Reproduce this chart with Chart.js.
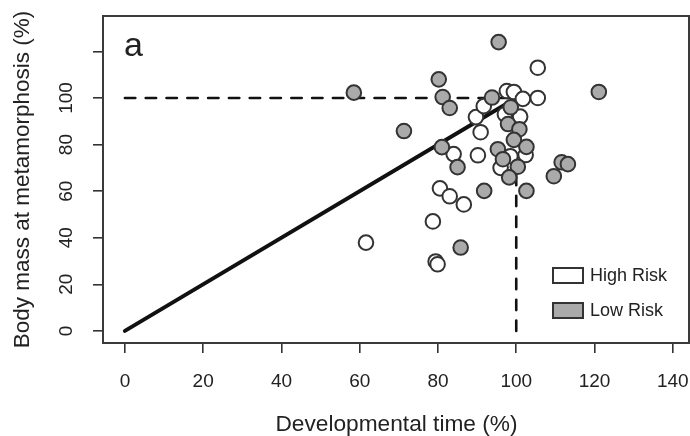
<!DOCTYPE html>
<html>
<head>
<meta charset="utf-8">
<script src="https://cdn.jsdelivr.net/npm/chart.js@4/dist/chart.umd.min.js"></script>
<style>
  html, body { margin: 0; padding: 0; background: #ffffff; overflow: hidden; }
  #wrap { width: 690px; height: 436px; }
</style>
</head>
<body>
<div id="wrap"><canvas id="c" width="690" height="436"></canvas></div>
<script>
// ---- Data ----
const seriesNames = ["High Risk", "Low Risk"];

const highRiskX = [61.6, 79.4, 79.9, 78.7, 80.5, 83.0, 86.6, 84.0, 90.2, 90.9, 89.7, 91.7, 97.6, 99.4, 101.7, 105.5, 105.5, 102.4, 96.0, 97.1, 101.0, 98.5];
const highRiskY = [37.9, 29.8, 28.6, 47.0, 61.2, 57.8, 54.3, 75.9, 75.4, 85.3, 91.8, 96.5, 103.0, 102.6, 99.6, 100.0, 113.0, 75.5, 70.0, 93.0, 92.0, 75.0];

const lowRiskX = [58.5, 71.3, 80.2, 81.2, 83.0, 81.0, 85.0, 85.8, 91.8, 93.8, 95.5, 98.6, 97.9, 100.8, 99.4, 102.6, 95.3, 96.6, 100.4, 98.2, 102.6, 111.6, 113.2, 109.6, 121.1];
const lowRiskY = [102.3, 85.8, 108.0, 100.4, 95.7, 78.9, 70.3, 35.8, 60.1, 100.2, 124.0, 96.0, 88.8, 86.6, 82.0, 79.0, 78.0, 73.7, 70.5, 65.9, 60.1, 72.4, 71.6, 66.4, 102.6];

// reference lines
const diagX = [0, 100];
const diagY = [0, 100];
const hRefX = [0, 100];
const hRefY = [100, 100];
const vRefX = [100, 100];
const vRefY = [0, 100];

// axes
const xTickValues = [0, 20, 40, 60, 80, 100, 120, 140];
const xTickLabels = ["0", "20", "40", "60", "80", "100", "120", "140"];
const yTickValues = [0, 20, 40, 60, 80, 100, 120];
const yTickLabels = ["0", "20", "40", "60", "80", "100", ""];
const xTitle = "Developmental time (%)";
const yTitle = "Body mass at metamorphosis (%)";
const panelLabel = "a";

// ---- helpers ----
const pts = (xs, ys) => xs.map((x, i) => ({ x: x, y: ys[i] }));
const FONT = "'Liberation Sans', Arial, Helvetica, sans-serif";
const INK = "#222222";
const FILL_LOW = "#aaaaaa";

const boxPlugin = {
  id: 'boxAndLegend',
  afterDraw(chart) {
    const { ctx, chartArea: a } = chart;
    ctx.save();
    ctx.strokeStyle = "#3a3a3a";
    ctx.lineWidth = 2;
    ctx.strokeRect(a.left, a.top, a.right - a.left - 1, a.bottom - a.top);
    // panel letter
    ctx.fillStyle = INK;
    ctx.font = "34px " + FONT;
    ctx.textAlign = "left";
    ctx.textBaseline = "alphabetic";
    ctx.fillText(panelLabel, a.left + 21, a.top + 40);
    // legend, in the order of seriesNames
    ctx.font = "18px " + FONT;
    ctx.textBaseline = "middle";
    const bx = 553, bw = 30, bh = 15;
    const rows = [268, 303];
    seriesNames.forEach((name, i) => {
      const d = chart.data.datasets.find(ds => ds.label === name);
      const by = rows[i];
      ctx.fillStyle = d.backgroundColor;
      ctx.fillRect(bx, by, bw, bh);
      ctx.strokeStyle = "#333333";
      ctx.lineWidth = 2;
      ctx.strokeRect(bx, by, bw, bh);
      ctx.fillStyle = INK;
      ctx.fillText(d.label, bx + 37, by + bh / 2 + 1);
    });
    ctx.restore();
  }
};

const lineDs = (label, xs, ys, width, dash, order) => ({
  type: 'line', label: label, data: pts(xs, ys), showLine: true,
  borderColor: "#111111", borderWidth: width, borderDash: dash,
  borderCapStyle: 'round', pointRadius: 0, fill: false, order: order
});

new Chart(document.getElementById('c'), {
  type: 'scatter',
  data: {
    datasets: [
      {
        label: seriesNames[1], data: pts(lowRiskX, lowRiskY),
        backgroundColor: FILL_LOW, borderColor: "#333333", borderWidth: 2,
        pointRadius: 7.3, pointHoverRadius: 7.3, order: 0
      },
      {
        label: seriesNames[0], data: pts(highRiskX, highRiskY),
        backgroundColor: "#ffffff", borderColor: "#333333", borderWidth: 2,
        pointRadius: 7.3, pointHoverRadius: 7.3, order: 1
      },
      lineDs("diag", diagX, diagY, 4, [], 2),
      lineDs("h100", hRefX, hRefY, 2.6, [10.4, 10.4], 3),
      lineDs("v100", vRefX, vRefY, 2.6, [10.4, 10.4], 4)
    ]
  },
  options: {
    responsive: false,
    animation: false,
    devicePixelRatio: 1,
    layout: { autoPadding: false, padding: { top: 16, right: 0, bottom: 0, left: 0 } },
    plugins: { legend: { display: false }, tooltip: { enabled: false } },
    scales: {
      x: {
        type: 'linear', position: 'bottom', min: -5.6, max: 144.4,
        afterBuildTicks: s => { s.ticks = xTickValues.map(v => ({ value: v })); },
        afterFit: s => { s.height = 93; s.paddingLeft = 0; s.paddingRight = 0; },
        grid: { display: true, drawOnChartArea: false, drawTicks: true, tickLength: 10, color: "#333333", lineWidth: 1.6 },
        border: { display: false },
        ticks: {
          autoSkip: false, maxRotation: 0, minRotation: 0, padding: 17, color: INK,
          font: { family: FONT, size: 19 },
          callback: (v) => { const i = xTickValues.indexOf(v); return i >= 0 ? xTickLabels[i] : null; }
        },
        title: { display: true, text: xTitle, color: INK, font: { family: FONT, size: 22.7, lineHeight: 1 }, padding: { top: 0, bottom: 0 } }
      },
      y: {
        type: 'linear', position: 'left', min: -5.2, max: 135.2,
        afterBuildTicks: s => { s.ticks = yTickValues.map(v => ({ value: v })); },
        afterFit: s => { s.width = 103; s.paddingTop = 0; s.paddingBottom = 0; },
        grid: { display: true, drawOnChartArea: false, drawTicks: true, tickLength: 10, color: "#333333", lineWidth: 1.6 },
        border: { display: false },
        ticks: {
          autoSkip: false, minRotation: 90, maxRotation: 90, crossAlign: 'center', padding: 10, color: INK,
          font: { family: FONT, size: 19 },
          callback: (v) => { const i = yTickValues.indexOf(v); return i >= 0 ? yTickLabels[i] : null; }
        },
        title: { display: true, text: yTitle, color: INK, font: { family: FONT, size: 22.5, lineHeight: 1 }, padding: { top: 12, bottom: 0 } }
      }
    }
  },
  plugins: [boxPlugin]
});
</script>
</body>
</html>
